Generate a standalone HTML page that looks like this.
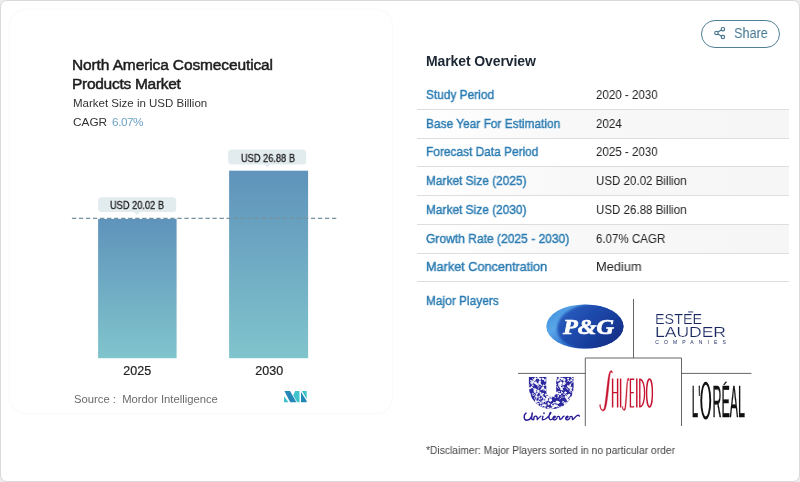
<!DOCTYPE html>
<html>
<head>
<meta charset="utf-8">
<title>North America Cosmeceutical Products Market</title>
<style>
*{box-sizing:border-box;margin:0;padding:0}
html,body{width:800px;height:482px;background:#ececec;overflow:hidden}
body{font-family:"Liberation Sans",sans-serif;position:relative;color:#222}
.abs{position:absolute;white-space:nowrap;will-change:transform}
#frame{position:absolute;left:0;top:0;width:800px;height:482px;border:1px solid #d9d9d9;border-radius:7px;background:#fff}
#card{position:absolute;left:10px;top:10px;width:382px;height:402.5px;border-radius:16px;background:#fff;box-shadow:0 0 3px rgba(0,0,0,0.055)}
.t1{font-size:15.5px;font-weight:normal;color:#1d1d1d;letter-spacing:-0.2px;-webkit-text-stroke:0.5px #1d1d1d}
.sub{font-size:11.5px;color:#333}
.lbl{font-size:13px;line-height:15px;color:#2a7bb2;-webkit-text-stroke:0.42px #2a7bb2;transform:scaleX(0.915);transform-origin:0 0}
.val{font-size:13px;line-height:15px;color:#222;transform:scaleX(0.888);transform-origin:0 0}
.row{position:absolute;left:417px;width:372px;height:28.75px;border-bottom:1px solid #dedede}
.row.alt{background:linear-gradient(90deg,#ffffff 0%,#f8f8f8 40%,#f6f6f6 100%)}
</style>
</head>
<body>
<div id="frame"></div>
<div id="card"></div>

<!-- chart titles -->
<div class="abs t1" style="left:72px;top:56px;line-height:17px;letter-spacing:-0.12px">North America Cosmeceutical</div>
<div class="abs t1" style="left:72px;top:75px;line-height:17px;letter-spacing:-0.28px">Products Market</div>
<div class="abs sub" style="left:72.5px;top:96.3px;line-height:15px">Market Size in USD Billion</div>
<div class="abs sub" style="left:72.5px;top:114.6px;line-height:15px;font-size:11.8px">CAGR<span style="color:#6ea2c4;letter-spacing:-0.5px;margin-left:5px">6.07%</span></div>

<!-- chart -->
<svg class="abs" style="left:0;top:0" width="400" height="482" viewBox="0 0 400 482">
  <defs>
    <linearGradient id="bg" x1="0" y1="0" x2="0" y2="1">
      <stop offset="0" stop-color="#5f93bb"/>
      <stop offset="1" stop-color="#80c4cc"/>
    </linearGradient>
  </defs>
  <rect x="98.1" y="218.9" width="78.5" height="139.3" fill="url(#bg)"/>
  <rect x="229.1" y="170.7" width="79" height="187.5" fill="url(#bg)"/>
  <line x1="71.9" y1="218.4" x2="336.3" y2="218.4" stroke="#76919f" stroke-width="1.1" stroke-dasharray="4.3 2.73"/>
  <!-- value labels -->
  <rect x="98.1" y="197.2" width="78.1" height="14.8" rx="3.5" fill="#e2ebee"/>
  <path d="M133.8 211.9 L139.8 211.9 L136.8 215 Z" fill="#e2ebee"/>
  <rect x="228.2" y="149.6" width="78" height="14.8" rx="3.5" fill="#e2ebee"/>
  <path d="M264.3 164.3 L270.3 164.3 L267.3 167.5 Z" fill="#e2ebee"/>
</svg>
<div class="abs" style="left:98px;top:197px;width:78px;height:15px;line-height:15px;padding-top:1px;text-align:center;font-size:10.3px;color:#222;-webkit-text-stroke:0.3px #222;transform:scaleX(0.9)">USD 20.02 B</div>
<div class="abs" style="left:229px;top:149.5px;width:78px;height:15px;line-height:15px;padding-top:1px;text-align:center;font-size:10.3px;color:#222;-webkit-text-stroke:0.3px #222;transform:scaleX(0.9)">USD 26.88 B</div>
<div class="abs" style="left:98px;top:364px;width:78.5px;text-align:center;font-size:12.5px;line-height:15px;color:#222;-webkit-text-stroke:0.2px #222">2025</div>
<div class="abs" style="left:229.5px;top:364.2px;width:78.5px;text-align:center;font-size:12.5px;line-height:15px;color:#222;-webkit-text-stroke:0.2px #222">2030</div>
<div class="abs" style="left:73.5px;top:391.8px;font-size:11.25px;line-height:15px;color:#6b6b6b">Source :&nbsp; Mordor Intelligence</div>

<!-- mordor logo -->
<svg class="abs" style="left:284px;top:391px" width="24" height="12" viewBox="0 0 24 12">
  <polygon points="0.4,0 6,0 12.4,11.3 6.2,11.3" fill="#2487b8"/>
  <polygon points="0,5.3 0,11.3 4.6,11.3" fill="#3fc1c9"/>
  <polygon points="11.2,0 15.4,0 15.6,11.3 13.2,11.3 9.2,4.3" fill="#3fc4cc"/>
  <polygon points="17,0.9 17,11.3 22.7,11.3 22.7,9.9" fill="#2487b8"/>
  <polygon points="17.9,0 22.7,0 22.7,7.9" fill="#3fc4cc"/>
</svg>

<!-- share button -->
<div class="abs" style="left:701px;top:20px;width:79.4px;height:27.6px;border:1px solid #517f95;border-radius:14px"></div>
<svg class="abs" style="left:713px;top:26px" width="14" height="14" viewBox="0 0 14 14" fill="none" stroke="#3f7088" stroke-width="1.1">
  <circle cx="9.9" cy="3.2" r="1.7"/>
  <circle cx="3.4" cy="7" r="1.7"/>
  <circle cx="9.9" cy="11.1" r="1.7"/>
  <path d="M4.9 6.1 L8.4 4.1 M4.9 7.9 L8.4 10.2"/>
</svg>
<div class="abs" style="left:734px;top:23.6px;font-size:15.3px;line-height:17px;color:#467a92;transform:scaleX(0.83);transform-origin:0 0">Share</div>

<!-- overview -->
<div class="abs" style="left:426px;top:53px;font-size:14px;font-weight:bold;line-height:17px;letter-spacing:-0.1px;color:#1c2733">Market Overview</div>

<div class="row" style="top:81.00px;height:29.10px"></div>
<div class="row alt" style="top:110.10px;height:28.90px"></div>
<div class="row" style="top:139.00px;height:27.80px"></div>
<div class="row alt" style="top:166.80px;height:29.00px"></div>
<div class="row" style="top:195.80px;height:28.95px"></div>
<div class="row alt" style="top:224.75px;height:28.85px"></div>
<div class="row" style="top:253.60px;height:28.90px"></div>
<div class="abs lbl" style="left:426.2px;top:87.20px">Study Period</div>
<div class="abs val" style="left:596px;top:87.20px">2020 - 2030</div>
<div class="abs lbl" style="left:426.2px;top:115.95px">Base Year For Estimation</div>
<div class="abs val" style="left:596px;top:115.95px">2024</div>
<div class="abs lbl" style="left:426.2px;top:144px">Forecast Data Period</div>
<div class="abs val" style="left:596px;top:144px">2025 - 2030</div>
<div class="abs lbl" style="left:426.2px;top:173.45px">Market Size (2025)</div>
<div class="abs val" style="left:596px;top:173.45px">USD 20.02 Billion</div>
<div class="abs lbl" style="left:426.2px;top:202.20px">Market Size (2030)</div>
<div class="abs val" style="left:596px;top:202.20px">USD 26.88 Billion</div>
<div class="abs lbl" style="left:426.2px;top:230.95px;transform:scaleX(0.927)">Growth Rate (2025 - 2030)</div>
<div class="abs val" style="left:596px;top:230.95px">6.07% CAGR</div>
<div class="abs lbl" style="left:426.2px;top:259px;transform:scaleX(0.975)">Market Concentration</div>
<div class="abs val" style="left:596px;top:259px;transform:scaleX(0.985)">Medium</div>
<div class="abs lbl" style="left:426.2px;top:292.75px">Major Players</div>

<!-- LOGOS -->
<svg class="abs" style="left:500px;top:290px" width="280" height="145" viewBox="500 290 280 145">
  <defs>
    <linearGradient id="pgl" x1="0" y1="0.2" x2="1" y2="0.8">
      <stop offset="0" stop-color="#3f8fdc"/>
      <stop offset="0.22" stop-color="#5aa6e8"/>
      <stop offset="0.5" stop-color="#2f74cf"/>
      <stop offset="1" stop-color="#123a9a"/>
    </linearGradient>
    <linearGradient id="pgd" x1="0" y1="0.1" x2="1" y2="0.9">
      <stop offset="0" stop-color="#2a60c2"/>
      <stop offset="0.45" stop-color="#1c47a8"/>
      <stop offset="1" stop-color="#10297f"/>
    </linearGradient>
    <filter id="pgb" x="-10%" y="-10%" width="120%" height="120%"><feGaussianBlur stdDeviation="0.9"/></filter>
    <clipPath id="pgc"><ellipse cx="584.9" cy="326.5" rx="38.6" ry="22.1"/></clipPath>
    <clipPath id="uc"><path d="M528.9 377.1 L546.3 377.1 L546.3 392 A4.95 4.95 0 0 0 556.2 392 L556.2 377.1 L573.6 377.1 L573.6 387 A22.35 22.35 0 0 1 528.9 387 Z"/></clipPath>
  </defs>
  <!-- divider lines -->
  <g stroke="#555" stroke-width="0.9" fill="none">
    <path d="M633.5 299 V358"/>
    <path d="M585.3 426 V358 H681.5 V426"/>
    <path d="M518 373.4 H585.3"/>
    <path d="M681.5 373.4 H751.4"/>
  </g>
  <!-- P&G -->
  <ellipse cx="584.9" cy="326.5" rx="38.6" ry="22.1" fill="url(#pgl)"/>
  <g clip-path="url(#pgc)"><ellipse cx="591.5" cy="326.6" rx="34.5" ry="23" fill="url(#pgd)" filter="url(#pgb)" transform="rotate(-6 591.5 326.6)"/></g>
  <text x="563" y="333.5" font-family="Liberation Serif, serif" font-weight="bold" font-style="italic" font-size="21" fill="#fff" stroke="#fff" stroke-width="0.7" textLength="51" lengthAdjust="spacingAndGlyphs">P&amp;G</text>
  <!-- Estee Lauder -->
  <g font-family="Liberation Sans, sans-serif" fill="#17265f" stroke="#fff" stroke-width="0.2" paint-order="fill stroke">
    <text x="655" y="323.5" font-size="13.8" textLength="47.2" lengthAdjust="spacingAndGlyphs">ESTEE</text>
    <rect x="688.2" y="311.5" width="5" height="0.9" stroke="none"/>
    <text x="655" y="336.9" font-size="14.3" textLength="71" lengthAdjust="spacingAndGlyphs">LAUDER</text>
    <text x="655.3" y="343.7" font-size="5" textLength="70.5" lengthAdjust="spacing" stroke="none">COMPANIES</text>
  </g>
  <!-- Unilever -->
  <g clip-path="url(#uc)">
    <rect x="528" y="376" width="47" height="35" fill="#2a279f"/>
    <g fill="#fff" stroke="#fff" stroke-width="0.75" stroke-linecap="round" fill-opacity="1"><path d="M549.1 395.1 Q549.4 394.2 549.0 395.2"/><path d="M551.8 397.3 Q550.6 398.3 550.0 396.5"/><path d="M559.9 378.8 Q560.2 377.8 561.9 379.5"/><circle cx="529.7" cy="394.1" r="0.55"/><path d="M539.8 378.4 Q539.8 378.9 539.5 380.0"/><path d="M551.2 398.4 Q552.7 399.4 550.3 400.6"/><circle cx="560.5" cy="387.4" r="0.59"/><path d="M532.1 401.6 Q533.5 402.7 533.6 401.1"/><path d="M529.0 384.1 Q528.7 382.8 528.9 386.2"/><circle cx="557.0" cy="402.0" r="0.49"/><path d="M543.8 407.9 Q542.6 406.5 542.1 406.8"/><path d="M564.5 383.1 Q565.2 382.0 564.2 381.7"/><path d="M557.6 381.2 Q559.1 382.1 556.4 380.2"/><circle cx="542.5" cy="405.4" r="0.65"/><circle cx="567.0" cy="397.7" r="0.94"/><path d="M538.5 385.6 Q537.2 384.4 537.7 384.7"/><path d="M554.9 385.2 Q556.3 385.1 554.4 384.9"/><circle cx="554.6" cy="404.8" r="0.53"/><circle cx="569.4" cy="403.3" r="0.54"/><circle cx="561.9" cy="407.1" r="0.93"/><path d="M568.3 396.5 Q569.6 395.7 566.5 394.5"/><path d="M560.4 385.6 Q559.4 386.3 560.8 384.7"/><path d="M532.1 384.7 Q531.4 385.9 533.6 385.2"/><circle cx="538.1" cy="378.0" r="0.67"/><circle cx="531.7" cy="383.1" r="0.74"/><path d="M534.9 388.9 Q535.4 389.2 537.0 389.6"/><circle cx="535.2" cy="378.6" r="0.91"/><circle cx="560.2" cy="407.8" r="0.77"/><circle cx="550.5" cy="400.5" r="0.95"/><path d="M532.3 394.7 Q533.0 395.6 534.1 395.7"/><path d="M569.7 388.6 Q569.5 389.5 571.5 390.2"/><path d="M567.4 395.5 Q567.8 394.3 566.9 395.9"/><path d="M557.5 408.8 Q558.2 409.0 558.5 408.3"/><circle cx="548.6" cy="403.9" r="0.83"/><path d="M530.3 396.4 Q530.3 396.8 529.1 397.3"/><circle cx="570.0" cy="385.6" r="0.60"/><circle cx="559.2" cy="383.9" r="0.90"/><path d="M558.4 391.4 Q557.5 391.2 557.6 392.2"/><path d="M564.9 406.3 Q564.3 405.2 564.4 406.7"/><path d="M551.1 403.9 Q550.4 402.9 552.0 405.8"/><circle cx="549.1" cy="386.2" r="0.66"/><circle cx="556.8" cy="393.1" r="0.87"/><circle cx="572.7" cy="391.8" r="0.47"/><path d="M567.8 378.8 Q568.7 377.4 568.2 378.0"/><circle cx="535.0" cy="391.8" r="0.86"/><circle cx="539.6" cy="381.9" r="0.76"/><path d="M548.9 397.3 Q549.4 396.4 550.2 399.4"/><circle cx="550.1" cy="383.1" r="0.69"/><circle cx="560.8" cy="383.1" r="0.62"/><path d="M560.0 393.9 Q560.9 395.1 561.2 393.4"/><path d="M532.9 406.9 Q533.3 408.1 531.3 406.7"/><path d="M545.8 395.4 Q545.7 395.9 547.1 397.4"/><path d="M538.1 400.2 Q537.3 401.4 538.7 401.2"/><path d="M572.6 408.3 Q573.9 409.4 573.9 407.5"/><path d="M544.5 380.1 Q544.5 378.7 544.7 381.3"/><path d="M565.0 379.5 Q565.9 378.4 563.6 378.8"/><path d="M535.6 393.8 Q537.0 393.7 537.1 394.6"/><circle cx="571.2" cy="380.2" r="0.71"/><path d="M541.9 400.5 Q542.1 399.9 542.0 402.0"/><path d="M546.0 404.1 Q547.4 404.2 544.7 405.7"/><path d="M554.5 383.8 Q553.1 385.2 554.5 384.3"/><path d="M552.0 390.1 Q552.5 388.8 552.2 390.1"/><path d="M553.0 390.5 Q552.9 389.4 554.8 389.5"/><path d="M548.3 403.2 Q547.4 403.5 548.2 402.4"/><path d="M570.2 381.6 Q569.4 382.1 568.1 380.2"/><path d="M543.3 388.7 Q542.2 388.7 541.6 389.7"/><path d="M540.1 383.7 Q539.9 383.8 539.9 383.2"/><path d="M536.1 383.9 Q537.2 384.3 536.7 384.1"/><path d="M567.1 384.8 Q566.6 384.3 568.5 386.6"/><path d="M570.1 384.4 Q569.3 385.1 571.8 382.8"/><path d="M540.5 380.6 Q539.4 380.3 540.2 381.8"/><circle cx="559.5" cy="378.1" r="0.79"/><circle cx="569.6" cy="408.0" r="0.70"/><path d="M562.7 393.3 Q561.6 392.0 561.4 391.4"/><path d="M553.5 393.7 Q552.7 394.7 552.0 392.3"/><circle cx="573.1" cy="406.7" r="0.48"/><path d="M571.3 392.1 Q571.4 391.8 570.6 391.9"/><path d="M555.7 377.9 Q555.6 378.6 557.3 376.5"/><circle cx="547.0" cy="383.6" r="0.71"/><path d="M529.7 405.6 Q530.1 405.3 530.6 407.2"/><path d="M555.7 393.4 Q556.9 394.1 557.0 392.3"/><path d="M563.6 403.2 Q564.2 404.0 565.4 404.8"/><path d="M563.1 390.3 Q563.0 388.8 561.2 389.6"/><path d="M544.8 397.6 Q545.3 397.1 543.6 399.6"/><path d="M558.4 395.4 Q558.8 396.0 557.9 397.6"/><circle cx="562.9" cy="408.4" r="0.76"/><path d="M561.9 385.6 Q561.5 384.4 559.9 384.2"/><path d="M540.2 406.0 Q540.4 407.5 540.2 408.1"/><circle cx="557.4" cy="403.0" r="0.75"/><path d="M562.8 378.9 Q561.8 378.9 561.3 378.8"/><path d="M556.2 379.3 Q556.5 378.9 555.8 379.5"/><path d="M541.7 398.1 Q541.1 396.7 540.8 399.1"/><circle cx="539.9" cy="378.8" r="0.83"/><path d="M546.4 405.8 Q547.7 404.5 544.4 407.9"/><path d="M569.3 391.0 Q569.4 392.3 571.4 389.9"/><path d="M561.2 392.3 Q560.0 392.6 562.6 392.7"/><circle cx="549.3" cy="383.9" r="0.71"/><path d="M534.5 391.5 Q534.8 391.2 534.3 390.4"/><path d="M563.6 394.2 Q562.8 393.1 565.6 395.2"/><path d="M568.7 402.2 Q569.3 402.4 568.1 401.2"/><path d="M555.3 397.4 Q556.8 398.7 554.0 396.3"/><circle cx="568.1" cy="378.7" r="0.59"/><circle cx="547.9" cy="397.1" r="0.72"/><path d="M532.2 380.2 Q531.8 380.2 532.4 380.8"/><path d="M538.4 388.3 Q537.2 389.3 539.9 386.5"/><circle cx="556.8" cy="401.7" r="0.66"/><circle cx="540.5" cy="403.0" r="0.78"/><path d="M573.0 387.7 Q572.8 387.4 574.1 389.6"/><circle cx="533.3" cy="405.1" r="0.49"/><path d="M554.1 392.8 Q552.8 391.9 553.2 394.0"/><circle cx="558.5" cy="380.1" r="0.81"/><circle cx="559.9" cy="386.4" r="0.63"/><circle cx="561.3" cy="389.0" r="0.80"/><path d="M554.3 406.4 Q555.2 405.8 556.2 406.2"/><path d="M543.1 390.1 Q542.7 389.7 544.9 389.0"/><circle cx="545.2" cy="390.0" r="0.55"/><path d="M554.1 402.6 Q553.1 403.4 555.6 402.9"/><circle cx="568.2" cy="386.4" r="0.71"/><path d="M553.2 395.4 Q551.9 395.5 553.9 396.7"/><circle cx="564.1" cy="380.1" r="0.82"/><path d="M569.0 380.2 Q569.5 379.4 567.4 381.2"/><path d="M538.8 401.6 Q538.3 403.0 540.0 401.1"/><path d="M558.9 393.1 Q560.2 392.8 559.9 394.0"/><path d="M565.8 398.5 Q566.9 399.9 567.1 400.0"/><path d="M557.5 394.0 Q557.3 392.9 558.8 393.7"/><circle cx="562.0" cy="408.7" r="0.53"/><circle cx="538.1" cy="390.9" r="0.93"/><circle cx="531.6" cy="387.2" r="0.77"/><circle cx="563.5" cy="383.2" r="0.68"/><circle cx="555.0" cy="406.1" r="0.50"/><circle cx="537.2" cy="384.3" r="0.81"/><circle cx="555.5" cy="384.6" r="0.59"/><circle cx="536.7" cy="401.4" r="0.72"/><circle cx="565.4" cy="392.6" r="0.89"/><path d="M569.7 388.3 Q568.8 386.9 571.7 388.2"/><circle cx="571.2" cy="402.7" r="0.71"/><path d="M552.0 386.1 Q550.5 386.1 552.6 385.0"/><path d="M545.5 402.6 Q544.5 402.1 546.0 401.1"/><path d="M540.5 404.9 Q539.8 405.0 541.1 407.1"/><circle cx="535.7" cy="401.8" r="0.86"/><circle cx="566.7" cy="403.4" r="0.58"/><path d="M560.9 380.6 Q561.1 381.6 560.7 382.6"/><path d="M542.5 402.4 Q543.5 401.5 544.3 400.6"/><circle cx="553.2" cy="394.1" r="0.87"/><circle cx="542.9" cy="387.3" r="0.60"/><circle cx="549.8" cy="400.0" r="0.79"/><path d="M533.7 389.9 Q534.2 388.5 535.8 391.4"/><circle cx="545.8" cy="399.9" r="0.73"/><path d="M549.4 377.8 Q549.7 377.2 550.7 376.5"/><circle cx="545.7" cy="394.5" r="0.62"/><circle cx="546.5" cy="398.5" r="0.55"/><path d="M561.5 387.9 Q561.0 388.9 561.8 388.9"/><circle cx="533.1" cy="381.9" r="0.79"/><path d="M560.5 383.2 Q559.3 382.3 562.0 383.6"/><path d="M536.0 381.4 Q535.8 381.4 534.1 383.3"/><path d="M557.8 401.7 Q557.5 400.2 557.3 400.9"/><path d="M546.8 399.5 Q547.2 398.1 548.1 400.3"/><path d="M543.7 388.3 Q543.8 389.1 542.0 387.7"/><circle cx="565.7" cy="396.8" r="0.83"/><circle cx="569.2" cy="394.8" r="0.70"/><path d="M535.3 400.0 Q536.3 399.1 535.4 400.9"/><circle cx="571.0" cy="397.3" r="0.49"/><path d="M539.9 395.7 Q539.5 395.5 539.1 397.5"/><circle cx="534.5" cy="408.2" r="0.90"/><path d="M553.2 395.2 Q554.7 396.1 552.1 397.0"/><path d="M555.8 381.4 Q555.0 381.6 554.8 383.1"/><path d="M566.0 383.3 Q565.0 384.8 564.1 381.3"/><circle cx="570.8" cy="398.2" r="0.79"/><path d="M561.8 389.5 Q560.9 389.4 563.2 387.4"/><path d="M535.4 389.7 Q534.7 389.9 533.9 389.8"/><circle cx="543.8" cy="397.7" r="0.79"/><path d="M535.4 407.7 Q535.8 408.3 535.3 407.3"/><path d="M562.7 401.2 Q563.8 400.9 564.9 402.7"/><path d="M548.3 395.3 Q548.1 396.5 548.4 395.4"/><path d="M543.3 379.2 Q543.6 380.0 545.0 380.2"/><circle cx="542.6" cy="396.2" r="0.51"/><circle cx="548.9" cy="393.3" r="0.48"/><circle cx="559.9" cy="394.1" r="0.60"/><circle cx="546.6" cy="384.9" r="0.91"/><path d="M572.0 398.5 Q571.2 399.2 571.7 399.8"/><circle cx="554.2" cy="406.0" r="0.85"/><path d="M534.5 394.4 Q533.9 393.9 532.3 393.3"/><path d="M531.8 405.7 Q532.0 404.3 531.3 405.1"/><circle cx="530.4" cy="405.8" r="0.70"/><path d="M570.6 408.3 Q571.8 409.5 569.3 407.4"/><circle cx="537.7" cy="403.9" r="0.69"/><path d="M536.6 405.2 Q535.7 406.4 535.3 405.8"/><path d="M531.2 380.8 Q532.3 381.5 530.4 382.6"/><path d="M535.0 399.4 Q534.2 398.8 534.8 397.6"/><circle cx="560.6" cy="383.7" r="0.57"/><circle cx="558.6" cy="402.4" r="0.78"/><circle cx="568.4" cy="396.1" r="0.60"/><circle cx="570.2" cy="398.5" r="0.77"/><path d="M533.0 408.5 Q531.6 408.8 533.1 408.6"/><path d="M541.7 385.4 Q542.4 384.6 539.8 384.5"/><circle cx="541.4" cy="394.8" r="0.90"/><path d="M573.0 378.6 Q574.2 378.6 574.1 378.1"/><path d="M537.0 395.0 Q537.9 395.1 536.4 395.7"/><path d="M551.5 404.1 Q550.5 405.0 551.6 406.1"/><circle cx="536.4" cy="396.7" r="0.67"/><path d="M563.4 402.3 Q562.6 402.5 562.2 402.2"/><path d="M551.2 378.6 Q552.3 377.7 552.1 378.9"/><path d="M535.8 378.1 Q535.0 379.0 535.5 377.8"/><path d="M532.2 406.1 Q531.4 405.0 532.4 407.4"/><circle cx="542.8" cy="378.8" r="0.76"/><path d="M552.4 385.8 Q551.4 385.1 550.6 387.2"/><path d="M536.1 399.3 Q535.8 398.8 537.4 397.3"/><circle cx="538.6" cy="408.1" r="0.69"/><circle cx="562.9" cy="408.6" r="0.68"/><circle cx="562.1" cy="378.7" r="0.90"/><circle cx="535.3" cy="389.9" r="0.66"/><path d="M532.4 378.6 Q531.6 377.8 533.6 379.6"/><path d="M553.6 385.1 Q553.1 386.6 555.5 384.5"/><path d="M556.2 378.7 Q555.7 379.3 556.8 376.8"/><path d="M567.5 396.1 Q568.5 395.7 567.3 395.6"/><circle cx="563.8" cy="384.3" r="0.54"/><circle cx="553.5" cy="382.7" r="0.56"/><path d="M549.8 387.2 Q550.9 386.3 552.0 388.0"/><path d="M546.0 379.8 Q544.6 378.8 545.4 378.8"/><path d="M540.7 389.9 Q540.3 388.8 541.6 388.9"/><path d="M570.7 388.8 Q569.2 388.3 571.7 390.6"/><path d="M546.1 380.1 Q546.2 378.8 545.3 381.3"/><circle cx="546.5" cy="385.0" r="0.53"/><circle cx="555.5" cy="378.5" r="0.66"/><path d="M553.2 381.8 Q553.7 380.7 552.2 382.8"/><path d="M538.1 386.3 Q539.2 385.5 537.7 385.8"/><circle cx="542.0" cy="388.4" r="0.47"/><path d="M530.1 397.4 Q529.5 397.9 531.4 399.5"/><path d="M569.9 384.3 Q571.0 383.5 570.6 386.3"/><path d="M557.1 380.3 Q556.8 379.8 556.7 378.4"/><circle cx="551.1" cy="386.3" r="0.65"/><path d="M550.1 382.8 Q549.7 382.5 549.0 381.0"/><path d="M535.7 395.9 Q534.3 395.5 535.9 396.7"/><path d="M545.2 379.5 Q545.5 379.4 543.3 379.5"/><circle cx="543.5" cy="385.5" r="0.62"/><circle cx="568.7" cy="395.3" r="0.78"/><path d="M537.3 392.3 Q537.5 393.6 539.3 391.7"/><path d="M563.3 397.3 Q562.7 398.3 562.9 396.9"/><path d="M568.1 389.5 Q568.2 389.0 566.1 387.9"/><circle cx="545.0" cy="408.3" r="0.55"/><circle cx="539.2" cy="398.9" r="0.45"/><circle cx="553.2" cy="389.9" r="0.70"/><path d="M557.9 394.8 Q559.3 394.3 558.2 396.2"/><circle cx="544.4" cy="405.4" r="0.81"/><path d="M559.9 399.1 Q560.3 399.1 561.4 397.6"/><circle cx="554.1" cy="389.1" r="0.82"/><circle cx="552.8" cy="385.0" r="0.61"/><circle cx="536.9" cy="393.7" r="0.48"/><path d="M532.1 380.7 Q532.9 380.7 530.4 380.5"/><path d="M536.2 404.8 Q536.3 405.7 534.3 403.7"/><circle cx="546.5" cy="400.1" r="0.81"/><path d="M543.5 388.0 Q543.7 387.8 545.1 389.5"/><path d="M560.5 397.1 Q560.1 397.6 561.8 395.5"/><circle cx="539.3" cy="383.3" r="0.74"/><circle cx="570.9" cy="408.1" r="0.79"/><circle cx="547.7" cy="397.4" r="0.92"/><path d="M573.0 379.0 Q572.4 379.7 571.3 377.0"/><circle cx="573.2" cy="381.3" r="0.46"/><circle cx="553.1" cy="392.7" r="0.60"/><circle cx="564.6" cy="403.9" r="0.65"/><path d="M556.5 401.6 Q556.6 402.5 556.0 402.5"/><circle cx="535.5" cy="383.0" r="0.92"/><circle cx="540.2" cy="392.9" r="0.61"/><circle cx="529.9" cy="395.3" r="0.76"/><path d="M541.2 384.7 Q539.8 383.4 540.6 383.6"/><circle cx="568.7" cy="387.2" r="0.54"/><circle cx="550.5" cy="408.9" r="0.88"/><path d="M550.5 390.6 Q550.7 391.0 550.1 388.6"/><path d="M556.7 386.2 Q556.6 387.2 558.3 388.4"/><circle cx="561.3" cy="383.0" r="0.53"/><circle cx="534.3" cy="379.9" r="0.83"/><circle cx="542.8" cy="393.7" r="0.56"/><path d="M571.7 377.8 Q572.4 377.5 573.1 379.1"/><path d="M564.7 403.6 Q566.1 403.3 566.9 401.8"/><path d="M560.4 385.4 Q559.6 385.1 558.3 385.7"/><path d="M545.4 398.2 Q545.0 397.5 544.8 398.8"/><circle cx="569.3" cy="387.6" r="0.62"/><path d="M562.0 384.2 Q561.0 383.0 562.2 385.0"/><path d="M535.4 388.5 Q535.1 388.0 533.2 388.5"/><circle cx="552.9" cy="407.5" r="0.89"/><circle cx="543.3" cy="401.3" r="0.94"/><circle cx="548.1" cy="407.8" r="0.65"/><circle cx="560.4" cy="383.1" r="0.79"/><circle cx="571.2" cy="387.7" r="0.63"/><path d="M573.0 382.2 Q572.2 382.5 572.5 382.8"/><path d="M568.5 404.5 Q567.3 405.5 568.5 404.8"/><path d="M559.7 391.8 Q558.9 392.1 559.3 391.3"/><circle cx="554.5" cy="393.7" r="0.76"/><path d="M548.9 396.2 Q548.8 397.7 550.8 394.7"/><path d="M561.8 387.4 Q562.9 386.2 564.0 386.9"/><circle cx="573.1" cy="393.0" r="0.87"/><path d="M557.9 407.0 Q559.4 405.7 559.2 407.1"/><circle cx="567.7" cy="399.9" r="0.85"/><path d="M549.2 394.4 Q549.6 393.1 547.9 393.4"/><path d="M553.7 402.3 Q554.8 403.1 552.6 403.6"/><path d="M553.4 406.0 Q552.2 404.6 551.9 405.4"/><path d="M544.4 404.7 Q544.1 405.8 542.7 403.3"/><circle cx="556.5" cy="405.9" r="0.94"/><path d="M538.2 397.3 Q538.7 397.1 539.2 396.0"/><circle cx="529.7" cy="388.2" r="0.76"/></g>
  </g>
  <g fill="none" stroke="#2a1d98" stroke-width="1.35" stroke-linecap="round" stroke-linejoin="round">
    <path d="M526 413.1 C524.2 414.4 523.6 417.4 524.8 419.2 C526.2 421 529.4 420.2 530.8 418 C531.8 416.4 532.5 414.4 532.2 413.1 C532 415 531.3 417.6 531.7 418.7 C532.1 419.7 533 419.8 533.6 419.2" stroke-width="1.5"/>
    <path d="M533.6 419.6 C533.8 418.2 534 417 534.4 416.5 C535.4 415.8 536.8 416.2 537.1 417.4 C537.3 418.2 537.2 419 537.3 419.6 C538.2 418.6 539.6 417 540.8 416.2"/>
    <path d="M543 416.3 C542.6 417.6 542 419 542.4 419.6 C543 420 544 419.6 545.4 419 C547.6 417.6 550.6 414 550.9 412.9 C551.1 412.2 550.4 412.2 550 413 C549.2 414.8 548.8 418 549.6 419.2 C550.2 420 551.4 419.8 552.4 419"/>
    <path d="M552.8 418.4 C554 418.2 555.6 417.2 555.2 416.5 C554.6 415.8 553 416.8 552.9 418.2 C552.8 419.6 554.2 420.2 555.4 419.6 C556.2 419.2 556.8 418.6 557 418"/>
    <path d="M557.2 416.8 C558 416.2 559 416.2 559.3 416.8 C559.8 417.8 559.6 419.4 560.2 419.6 C561 419.6 562.6 417.6 563.2 416.4 C563.4 416.2 563.8 416.1 564.2 416.1"/>
    <path d="M565.6 418.4 C566.8 418.2 568.4 417.2 568 416.5 C567.4 415.8 565.8 416.8 565.7 418.2 C565.6 419.6 567 420.2 568.2 419.6 C569 419.2 569.6 418.6 569.8 418"/>
    <path d="M570 416.8 C570.8 416.2 571.8 416.2 572.1 416.8 C572.5 417.8 572.2 419.2 572.6 419.6 C574 418.6 575.6 416.4 577.4 415.4 C578.2 415 579 415.4 579.4 416.1"/>
    <circle cx="544" cy="413.2" r="0.3"/>
  </g>
  <!-- Shiseido -->
  <g fill="#c5122f" stroke="#c5122f" stroke-width="0.35" stroke-linejoin="round">
    <path d="M600.4 404.6 C600.4 409 602.6 411.6 604 408.4 C605.4 404.6 607 384 608.4 376.6 C609.4 370.4 611.8 368.4 612.5 372.8 L611.7 373 C611.3 370.6 610.4 371.4 609.8 376.8 C608.8 386 607.4 404.8 605.4 409 C603.4 413.2 599.8 410 599.6 404.8 Z"/>
    <path d="M622.8 406.4 C622.9 409.2 624 410.4 624.7 408.2 C625.4 405.6 626.1 390 626.9 382.4 C627.4 378 628.7 376.4 629.1 380.2 L628.4 380.4 C628.1 378.6 627.8 379.4 627.6 382.6 C627.1 390 626.5 405.6 625.5 409 C624.5 411.8 622.3 410.4 622.1 406.6 Z"/>
  </g>
  <g stroke="#c5122f" stroke-width="1.45" fill="none" stroke-linecap="butt">
    <path d="M612.6 378.5 V407.5 M617.6 378.5 V407.5 M612.6 392.6 H617.6" />
    <path d="M620.6 378.5 V407.5"/>
    <path d="M634.2 379.2 H630.4 V406.8 H634.2 M630.4 392.6 H633.8" stroke-width="1.35"/>
    <path d="M636.8 378.5 V407.5"/>
    <path d="M639.8 379.2 V406.8 C646.2 406.8 646.2 379.2 639.8 379.2 Z" stroke-width="1.35"/>
    <ellipse cx="649.5" cy="393" rx="2.9" ry="14" stroke-width="1.35"/>
  </g>
  <!-- L'Oreal -->
  <g font-family="Liberation Sans, sans-serif" fill="#111" stroke="#111" stroke-width="0.55">
    <text x="691.8" y="416.6" font-size="43.5" textLength="8.6" lengthAdjust="spacingAndGlyphs">L&#39;</text>
    <path fill-rule="evenodd" stroke="none" d="M700.3 400.6 a5.45 18.85 0 1 0 10.9 0 a5.45 18.85 0 1 0 -10.9 0 Z M702.2 400.6 a3.55 15.9 0 1 1 7.1 0 a3.55 15.9 0 1 1 -7.1 0 Z"/>
    <text x="712.4" y="416.6" font-size="43.5" textLength="32.6" lengthAdjust="spacingAndGlyphs">REAL</text>
    <path d="M723.4 384.8 L725.6 381.7 L726.8 381.9 L724.4 384.9 Z" stroke-width="0.3"/>
  </g>
</svg>

<div class="abs" style="left:426.4px;top:443.6px;font-size:11px;line-height:13px;color:#444;transform:scaleX(0.934);transform-origin:0 0">*Disclaimer: Major Players sorted in no particular order</div>
</body>
</html>
